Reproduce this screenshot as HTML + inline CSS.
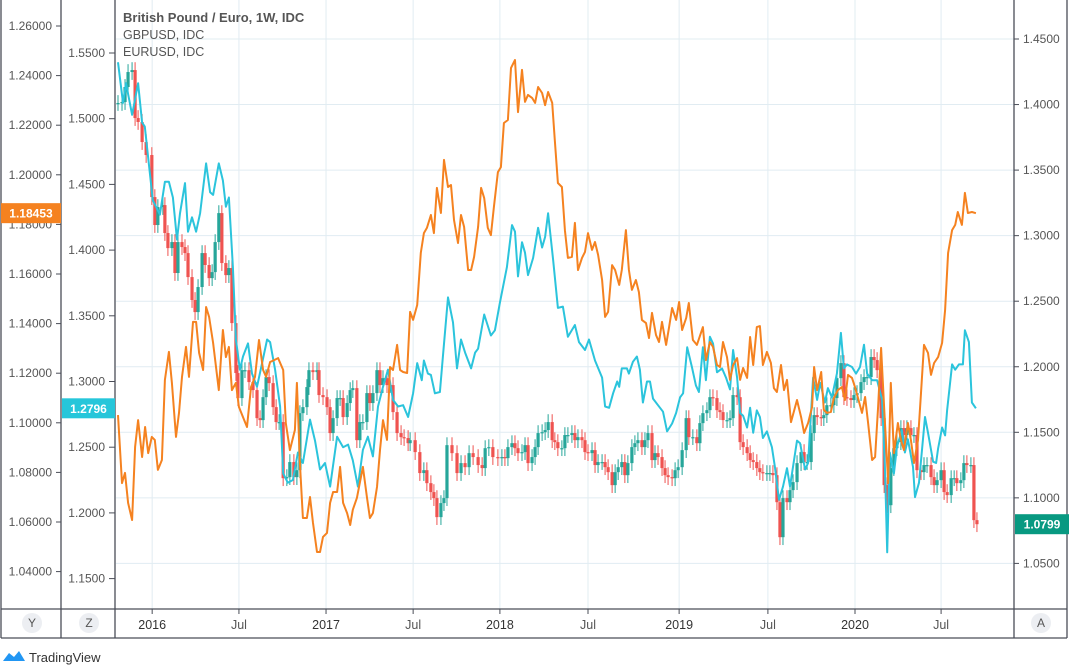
<!DOCTYPE html>
<html><head><meta charset="utf-8"><style>
html,body{margin:0;padding:0;background:#fff;}
svg{display:block;font-family:"Liberation Sans",sans-serif;}
</style></head><body>
<svg id="chart" width="1069" height="666" viewBox="0 0 1069 666">
<g id="grid"></g>
<g id="series"></g>
<g id="axes"></g>
<g fill="#555">
<text x="123" y="22" font-size="13" font-weight="bold">British Pound / Euro, 1W, IDC</text>
<text x="123" y="39" font-size="12.5">GBPUSD, IDC</text>
<text x="123" y="56" font-size="12.5">EURUSD, IDC</text>
</g>
<g>
<path d="M3 661 L9 653 L14 657 L19 651 L25 661 Z" fill="#2196f3"/>
<text x="29" y="662" font-size="13" fill="#333">TradingView</text>
</g>
</svg>
<script>
const NS='http://www.w3.org/2000/svg';
// ---- data ----
const eurTicks=[1.26,1.24,1.22,1.20,1.18,1.16,1.14,1.12,1.10,1.08,1.06,1.04];
const gbpTicks=[1.55,1.50,1.45,1.40,1.35,1.30,1.25,1.20,1.15];
const rightTicks=[1.45,1.40,1.35,1.30,1.25,1.20,1.15,1.10,1.05];
const timeLabels=['2016','Jul','2017','Jul','2018','Jul','2019','Jul','2020','Jul'];
const timeWeeks=[10.2,36.1,62.1,88.1,114.0,140.3,167.5,194.0,220.0,245.7];
const gbpusdWeeks=[0,1.5,2.4,4.2,6,7.2,8,10.4,12.5,14,15.2,16.4,17.6,18.5,20,20.9,22.1,23.3,24.5,26.3,27.5,28.4,30.1,31.3,32.2,33.1,34.3,35.2,36.4,37.3,38.8,40,41.5,43,44.5,45.4,46.9,48.4,49.3,50.7,52.2,53.7,55.2,57.3,58.8,60.3,61.8,63.3,65.4,67.2,68.7,70.1,71.6,73.1,74.6,76.1,77.6,79.1,80.6,82.1,83.6,85.1,86.6,88.1,89.3,90.7,91.3,92.5,93.4,94.6,96.1,97,98.5,100,101.2,102.4,103.6,105.4,106.6,107.5,109.3,111.3,112.5,114,116.1,117.6,118.5,119.4,120.6,121.5,122.4,123.9,125.4,126.6,127.5,128.4,129.9,131.3,132.8,134.3,136.4,137.6,139.4,140.6,142.4,144.5,145.4,146.6,147.8,149,149.6,150.4,151.9,152.5,153.7,154.9,155.8,156.7,157.9,158.8,159.7,161.2,162.7,163.9,165.4,166.6,167.8,168.7,169.9,171.3,172.5,173.4,174.6,175.5,176.7,177.6,178.8,180.3,181.5,182.7,183.6,184.8,185.7,186.6,187.8,188.7,189.6,190.7,191.6,192.5,193.7,195.2,196.1,197.3,198.5,199.7,200.6,202.7,203.6,205.1,206,207.5,208.7,209.6,211,211.9,213.1,214.6,215.8,216.7,217.6,219.1,220.3,221.5,222.7,223.6,225.1,226.6,228.1,229,229.6,230.4,231.6,232.5,234,234.9,235.8,237.3,237.9,239.1,240.9,241.8,243.3,244.2,244.8,246,246.9,247.5,249,249.9,251,252.2,252.8,254,254.9,256.1];
const gbpusdValues=[1.543,1.512,1.527,1.503,1.527,1.497,1.494,1.438,1.427,1.452,1.452,1.440,1.408,1.428,1.451,1.414,1.425,1.414,1.428,1.466,1.444,1.442,1.466,1.453,1.433,1.440,1.387,1.332,1.309,1.319,1.329,1.306,1.296,1.314,1.332,1.330,1.309,1.281,1.230,1.223,1.225,1.246,1.238,1.271,1.255,1.233,1.238,1.220,1.258,1.250,1.252,1.240,1.220,1.248,1.258,1.243,1.281,1.296,1.309,1.286,1.281,1.282,1.273,1.291,1.314,1.301,1.316,1.306,1.305,1.291,1.292,1.319,1.364,1.345,1.310,1.332,1.322,1.310,1.322,1.325,1.351,1.335,1.339,1.360,1.387,1.419,1.414,1.380,1.406,1.398,1.381,1.394,1.417,1.402,1.410,1.428,1.392,1.356,1.357,1.334,1.343,1.330,1.324,1.332,1.316,1.303,1.281,1.280,1.291,1.300,1.296,1.310,1.310,1.306,1.315,1.319,1.309,1.284,1.300,1.300,1.287,1.282,1.277,1.262,1.268,1.276,1.288,1.291,1.326,1.311,1.297,1.292,1.326,1.301,1.334,1.329,1.307,1.310,1.303,1.294,1.324,1.303,1.276,1.274,1.265,1.280,1.261,1.278,1.273,1.257,1.262,1.250,1.235,1.210,1.220,1.234,1.220,1.255,1.253,1.233,1.238,1.303,1.286,1.299,1.284,1.295,1.288,1.306,1.337,1.310,1.313,1.311,1.306,1.311,1.328,1.306,1.301,1.301,1.286,1.230,1.170,1.246,1.230,1.250,1.263,1.246,1.256,1.235,1.212,1.223,1.273,1.261,1.239,1.238,1.249,1.265,1.259,1.278,1.313,1.309,1.313,1.313,1.339,1.330,1.284,1.2796];
const eurusdWeeks=[0,1.2,2.1,3,4.2,5.1,6,7.2,8.1,9,10.1,11,11.9,13.1,14,15.2,16.1,17.3,18.2,19.1,20.3,21.2,22.4,23.3,24.2,25.4,26.3,27.2,28.4,30.1,31.3,32.2,33.1,34,35.2,36.1,37.3,38.5,39.7,40.9,42.1,43.3,44.2,45.4,46.6,47.8,49.3,50.1,51.3,52.8,53.4,54.3,55.2,56.4,57.3,58.2,59.4,60.3,61.2,62.4,63.3,64.2,65.4,66.3,67.2,68.4,69.3,70.1,71.3,73.1,74.3,75.2,76.1,77.3,78.2,79.1,80.3,81.2,82.1,83.3,84.2,85.1,86.3,87.2,88.1,89.3,90.4,91.3,92.2,93.4,94.3,95.2,96.4,97.3,98.5,99.4,100.3,101.5,102.4,103.3,104.5,105.4,106.3,107.5,108.4,109.3,110.4,111.3,112.2,113.4,114.3,115.2,116.4,117.3,118.5,119.4,120.6,121.5,122.4,123.6,124.5,125.4,126.6,127.5,128.4,129.6,130.4,131.3,132.5,133.4,134.3,135.5,136.4,137.3,138.5,139.4,140.3,141.5,142.4,143.3,144.5,145.4,146.3,147.5,148.4,149.6,150.4,151.6,152.5,153.4,154.6,155.5,156.4,157.6,158.5,159.4,160.6,161.5,162.4,163.6,164.5,165.4,166.6,167.5,168.4,169.6,170.4,171.6,172.8,174.6,175.5,176.7,177.6,178.8,179.7,180.6,181.8,182.7,183.6,184.8,185.7,186.6,187.8,188.7,189.6,190.7,191.6,192.5,193.7,194.9,195.8,196.7,197.9,198.8,199.7,200.9,202.7,203.9,204.8,206,207.2,207.8,208.7,209.9,210.7,211.6,212.8,213.7,214.9,216.1,217,217.9,219.1,220,220.9,222.1,223,223.9,225.1,226,226.9,227.8,228.7,229.9,230.7,231.6,232.8,233.7,234.6,235.8,236.7,237.6,238.8,239.7,240.6,241.8,242.7,243.6,244.8,246,246.9,247.8,249,249.9,250.7,251.9,252.8,253.7,254.9,256.1];
const eurusdValues=[1.1031,1.0757,1.0798,1.0677,1.0608,1.0903,1.1011,1.0862,1.0983,1.0878,1.0943,1.0931,1.0810,1.0850,1.1173,1.1286,1.1161,1.0943,1.1040,1.1185,1.1306,1.1185,1.1407,1.1407,1.1282,1.1213,1.1467,1.1427,1.1322,1.1132,1.1374,1.1265,1.1306,1.1132,1.1161,1.1064,1.1023,1.0983,1.1144,1.1185,1.1334,1.1213,1.1185,1.1245,1.1253,1.1261,1.1213,1.0999,1.0890,1.0971,1.1161,1.0838,1.0616,1.0616,1.0701,1.0596,1.0479,1.0479,1.0540,1.0556,1.0677,1.0721,1.0721,1.0822,1.0677,1.0636,1.0588,1.0649,1.0697,1.0822,1.0701,1.0616,1.0636,1.0741,1.0890,1.1011,1.0931,1.1225,1.1213,1.1314,1.1213,1.1205,1.1201,1.1447,1.1415,1.1475,1.1685,1.1765,1.1786,1.1838,1.1765,1.1947,1.1846,1.2060,1.1951,1.1959,1.1818,1.1725,1.1838,1.1790,1.1616,1.1616,1.1669,1.1790,1.1947,1.1906,1.1786,1.1757,1.1870,1.2011,1.2031,1.2209,1.2221,1.2431,1.2463,1.2253,1.2423,1.2294,1.2322,1.2310,1.2290,1.2354,1.2330,1.2281,1.2334,1.2290,1.2140,1.1967,1.1951,1.1777,1.1665,1.1669,1.1806,1.1616,1.1665,1.1689,1.1765,1.1697,1.1729,1.1677,1.1576,1.1427,1.1447,1.1636,1.1616,1.1556,1.1616,1.1777,1.1616,1.1536,1.1576,1.1527,1.1415,1.1402,1.1342,1.1443,1.1354,1.1326,1.1407,1.1314,1.1386,1.1463,1.1415,1.1487,1.1374,1.1423,1.1483,1.1334,1.1314,1.1386,1.1253,1.1326,1.1306,1.1233,1.1225,1.1326,1.1265,1.1173,1.1233,1.1261,1.1173,1.1221,1.1181,1.1346,1.1233,1.1386,1.1390,1.1233,1.1286,1.1241,1.1140,1.1124,1.1233,1.1132,1.1173,1.1003,1.1092,1.1023,1.0959,1.0999,1.1064,1.1225,1.1132,1.1205,1.1052,1.1040,1.1044,1.1100,1.1132,1.1144,1.1092,1.1193,1.1181,1.1144,1.1100,1.1040,1.1104,1.0999,1.0850,1.0862,1.1064,1.1302,1.1064,1.0757,1.1161,1.0878,1.0999,1.0931,1.0890,1.0999,1.0931,1.0838,1.0931,1.1120,1.1314,1.1282,1.1193,1.1241,1.1265,1.1322,1.1455,1.1685,1.1777,1.1798,1.1850,1.1798,1.1927,1.1846,1.1850,1.18453];
const gbpeurWeeks=[0,1.2,2.1,3,4.2,5.1,6,7.2,8.4,10.1,11,11.9,13.4,14,14.9,16.1,17,17.9,19.1,20,20.9,22.1,23,23.9,25.1,26,27.2,28.1,29,30.1,31,32.2,33.1,34,35.2,35.8,37,37.9,39.1,40.3,41.5,42.4,43.3,44.2,45.1,46.3,47.2,48.1,49.3,50.4,51.3,52.5,53.4,54.3,55.2,56.4,57,58.2,59.4,60,61.2,62.4,63.3,64.2,65.4,66.3,67.2,68.4,69.3,70.1,71.3,72.2,73.1,74.3,75.2,76.1,77.3,78.2,79.1,80.3,81.2,82.1,83.3,84.5,85.4,86.6,87.2,88.7,90.1,91.3,92.2,93.4,94.3,95.2,96.4,97.3,98.2,99.7,101.2,102.4,103.6,104.8,106,107.5,108.7,109.6,110.7,111.9,113.4,114.6,115.5,116.4,117.6,118.5,119.4,120.6,121.5,122.4,123.6,124.5,125.4,126.6,127.5,128.4,129.6,130.4,131.3,132.5,133.4,134.3,135.5,136.4,137.3,138.5,139.4,140.3,141.5,142.4,143.3,144.5,145.4,146.3,147.5,148.4,149.3,150.4,151.3,152.2,153.4,154.3,155.2,156.4,157.3,158.2,159.4,160.3,161.2,162.4,163.3,164.2,165.4,166.3,167.2,168.4,169.6,170.4,171.6,172.8,173.7,174.6,175.8,176.7,177.6,178.8,179.7,180.6,181.8,182.7,183.6,184.8,185.7,186.6,187.8,188.7,189.6,190.7,191.6,192.5,193.7,194.6,195.5,196.7,197.6,198.5,199.7,200.6,201.5,202.7,203.9,204.8,205.7,206.9,207.8,208.7,209.9,210.7,211.6,212.8,213.7,214.6,215.8,216.7,217.6,218.8,219.7,220.6,221.8,222.7,223.6,224.8,225.7,226.6,227.8,228.7,229.6,230.7,231.6,232.5,233.7,234.6,235.5,236.7,237.6,238.5,239.7,240.6,241.5,242.7,243.6,244.5,245.7,246.6,247.5,248.7,249.6,250.4,251.6,252.5,253.4,254.6,255.5,256.4];
const gbpeurCloses=[1.4012,1.4019,1.4134,1.4248,1.4263,1.3897,1.3867,1.3714,1.3615,1.3294,1.3081,1.3218,1.3233,1.3020,1.2905,1.2951,1.2715,1.2951,1.2913,1.2867,1.2684,1.2509,1.2417,1.2608,1.2867,1.2776,1.2676,1.2722,1.2951,1.3172,1.2791,1.2699,1.2753,1.2333,1.1952,1.1761,1.1974,1.1974,1.1883,1.1822,1.1608,1.1593,1.1768,1.1921,1.1875,1.1692,1.1578,1.1578,1.1150,1.1158,1.1273,1.1158,1.1211,1.1646,1.1692,1.1845,1.1974,1.1959,1.1974,1.1784,1.1768,1.1692,1.1494,1.1608,1.1761,1.1761,1.1616,1.1723,1.1822,1.1837,1.1440,1.1578,1.1578,1.1799,1.1723,1.1799,1.1974,1.1860,1.1913,1.1860,1.1860,1.1654,1.1494,1.1463,1.1456,1.1417,1.1440,1.1349,1.1189,1.1211,1.1112,1.1044,1.0998,1.0853,1.0960,1.0998,1.1402,1.1341,1.1189,1.1265,1.1234,1.1341,1.1311,1.1250,1.1227,1.1379,1.1387,1.1311,1.1303,1.1311,1.1303,1.1387,1.1417,1.1379,1.1341,1.1349,1.1402,1.1265,1.1311,1.1387,1.1494,1.1501,1.1517,1.1578,1.1440,1.1425,1.1379,1.1379,1.1479,1.1479,1.1494,1.1440,1.1463,1.1440,1.1349,1.1341,1.1364,1.1250,1.1273,1.1273,1.1234,1.1196,1.1097,1.1196,1.1234,1.1273,1.1173,1.1265,1.1387,1.1417,1.1440,1.1387,1.1440,1.1494,1.1288,1.1341,1.1311,1.1227,1.1173,1.1158,1.1150,1.1211,1.1234,1.1364,1.1608,1.1463,1.1463,1.1417,1.1570,1.1646,1.1669,1.1768,1.1761,1.1669,1.1654,1.1593,1.1593,1.1608,1.1784,1.1768,1.1425,1.1387,1.1341,1.1288,1.1273,1.1227,1.1196,1.1189,1.1189,1.1189,1.1173,1.0967,1.0700,1.0998,1.0967,1.1059,1.1120,1.1265,1.1349,1.1273,1.1273,1.1494,1.1631,1.1616,1.1608,1.1631,1.1707,1.1707,1.1761,1.1913,1.2028,1.1768,1.1761,1.1746,1.1784,1.1799,1.1883,1.1921,1.1921,1.2074,1.2051,1.1974,1.1608,1.1097,1.0944,1.1227,1.1379,1.1425,1.1532,1.1479,1.1532,1.1479,1.1479,1.1211,1.1196,1.1250,1.1250,1.1158,1.1097,1.1135,1.1211,1.1044,1.1021,1.1150,1.1150,1.1112,1.1135,1.1265,1.1250,1.1250,1.0830,1.0799];

// ---- scales ----
const PL=116,PR=1014,PT=0,PB=609;
const xW=w=>118+w*3.35;
const yEUR=v=>26+(1.26-v)*2480;
const yGBP=v=>53+(1.55-v)*1314;
const yR=v=>39+(1.45-v)*1311;

function el(tag,attrs,parent){const e=document.createElementNS(NS,tag);for(const k in attrs)e.setAttribute(k,attrs[k]);parent.appendChild(e);return e;}
const grid=document.getElementById('grid'),series=document.getElementById('series'),axes=document.getElementById('axes');

rightTicks.forEach(v=>{const l=el('line',{x1:PL,x2:PR,y1:yR(v),y2:yR(v),stroke:'#e1ecf2','stroke-width':1},grid);

});
timeWeeks.forEach(w=>{const l=el('line',{x1:xW(w),x2:xW(w),y1:0,y2:PB,stroke:'#e1ecf2','stroke-width':1},grid);

});

const defs=el('defs',{},series);const cp=el('clipPath',{id:'pc'},defs);el('rect',{x:PL,y:0,width:PR-PL,height:PB},cp);
series.setAttribute('clip-path','url(#pc)');

gbpeurCloses.forEach((c,i)=>{
 const o=i>0?gbpeurCloses[i-1]:c;
 const up=c>=o;const col=up?'#26a69a':'#ef5350';
 const x=xW(gbpeurWeeks[i]);
 const hi=Math.max(o,c)+0.006,lo=Math.min(o,c)-0.006;
 const g=el('g',{},series);
 
 
 el('line',{x1:x,x2:x,y1:yR(hi),y2:yR(lo),stroke:col,'stroke-width':1},g);
 const y1=yR(Math.max(o,c)),y2=yR(Math.min(o,c));
 el('rect',{x:x-1.6,y:y1,width:3.2,height:Math.max(1.2,y2-y1),fill:col},g);
});
function line(ws,vs,fy,col,name){
 const d=ws.map((w,i)=>(i?'L':'M')+xW(w).toFixed(1)+' '+fy(vs[i]).toFixed(1)).join(' ');
 const p=el('path',{d:d,fill:'none',stroke:col,'stroke-width':2,'stroke-linejoin':'round'},series);
 
 
}
line(gbpusdWeeks,gbpusdValues,yGBP,'#2bc4dc','gbpusd-line');
line(eurusdWeeks,eurusdValues,yEUR,'#f58220','eurusd-line');

const frame=[[1,0,1,638],[61,0,61,638],[115,0,115,638],[1014,0,1014,638],[1067,0,1067,638],[1,PB,1067,PB],[1,638,1067,638]];
frame.forEach(f=>{const l=el('line',{x1:f[0],y1:f[1],x2:f[2],y2:f[3],stroke:'#4a4d57','stroke-width':1.3},axes);

});

eurTicks.forEach(v=>{const y=yEUR(v);
 el('line',{x1:56,x2:61,y1:y,y2:y,stroke:'#4a4d57'},axes);
 const t=el('text',{x:52,y:y+4,'font-size':12,fill:'#555','text-anchor':'end'},axes);t.textContent=v.toFixed(5);
 
 });
gbpTicks.forEach(v=>{const y=yGBP(v);
 el('line',{x1:109,x2:115,y1:y,y2:y,stroke:'#4a4d57'},axes);
 const t=el('text',{x:105,y:y+4,'font-size':12,fill:'#555','text-anchor':'end'},axes);t.textContent=v.toFixed(4);
 
 });
rightTicks.forEach(v=>{const y=yR(v);
 el('line',{x1:1014,x2:1019,y1:y,y2:y,stroke:'#4a4d57'},axes);
 const t=el('text',{x:1023,y:y+4,'font-size':12,fill:'#555'},axes);t.textContent=v.toFixed(4);
 
 });
timeLabels.forEach((s,i)=>{const x=xW(timeWeeks[i]);
 el('line',{x1:x,x2:x,y1:PB,y2:PB+5,stroke:'#4a4d57'},axes);
 const t=el('text',{x:x,y:629,'font-size':12.5,fill:s==='Jul'?'#555':'#333','text-anchor':'middle'},axes);t.textContent=s;
 
 });

function plabel(x,y,w,col,txt,name){const g=el('g',{},axes);
 
 
 el('rect',{x:x,y:y-10,width:w,height:20,fill:col},g);
 const t=el('text',{x:x+w/2,y:y+4.5,'font-size':12,'font-weight':'bold',fill:'#fff','text-anchor':'middle'},g);t.textContent=txt;}
plabel(1,yEUR(eurusdValues[eurusdValues.length-1]),60,'#f58220','1.18453','eurusd-price-label');
plabel(62,yGBP(gbpusdValues[gbpusdValues.length-1]),53,'#26c6da','1.2796','gbpusd-price-label');
plabel(1015,yR(gbpeurCloses[gbpeurCloses.length-1]),54,'#089981','1.0799','gbpeur-price-label');

[['Y',32],['Z',89],['A',1041]].forEach(b=>{const g=el('g',{},axes);
 
 
 el('circle',{cx:b[1],cy:623,r:10,fill:'#eceef2'},g);
 const t=el('text',{x:b[1],y:627,'font-size':12,fill:'#555','text-anchor':'middle'},g);t.textContent=b[0];});
</script>
</body></html>
